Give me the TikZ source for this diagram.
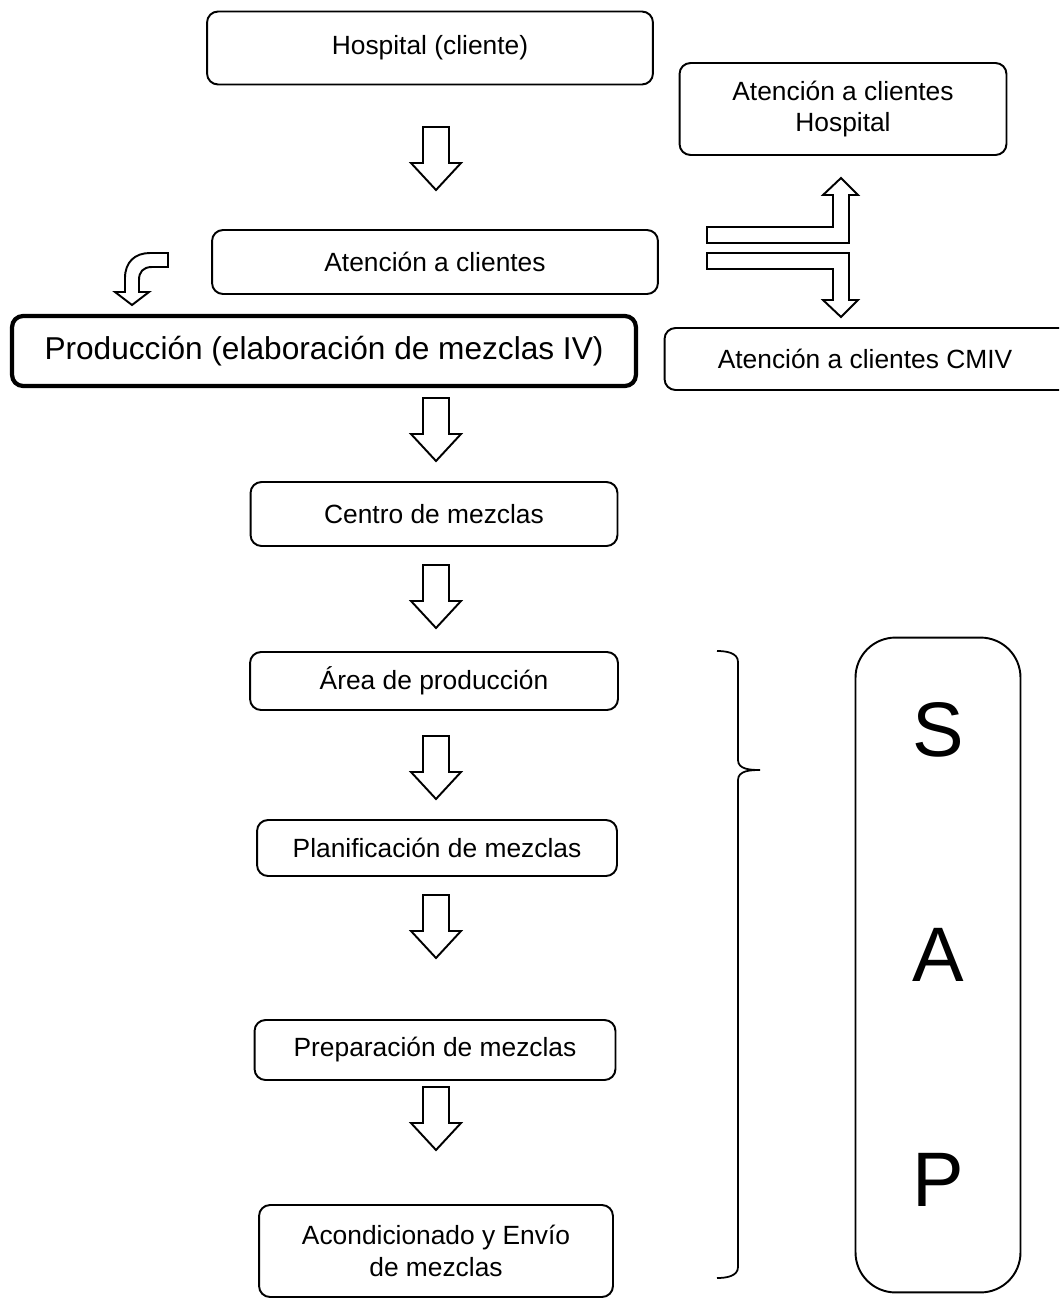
\documentclass[tikz,border=0pt]{standalone}
\usepackage{fontspec}
\setmainfont{Liberation Sans}
\tikzstyle{box}=[draw, rounded corners=0.22cm, line width=1.1pt, align=center, inner sep=0pt, font=\fontsize{15}{18}\selectfont]
\tikzstyle{bigbox}=[box, line width=2.4pt, font=\fontsize{18}{21}\selectfont]
\tikzstyle{blk}=[draw, line width=1.1pt, fill=white, line join=miter]
\tikzstyle{letter}=[font=\fontsize{44}{50}\selectfont]
\tikzset{pics/downarr/.style={code={
  \draw[blk] (-13,-31) -- (13,-31) -- (13,5) -- (25,5) -- (0,32) -- (-25,5) -- (-13,5) -- cycle;}}}

\begin{document}
\begin{tikzpicture}[x=0.02cm,y=-0.02cm]
      \clip (0,0) rectangle (1059,1298);

      \node [box, minimum width=8.92cm, minimum height=1.46cm] (hosp) at (430,48) {Hospital (cliente)};
      \node [box, minimum width=6.54cm, minimum height=1.84cm] (atch) at (843,109) {Atención a clientes\\Hospital};
      \node [box, minimum width=8.92cm, minimum height=1.28cm] (atc) at (435,262) {Atención a clientes};
      \node [bigbox, minimum width=12.48cm, minimum height=1.40cm] (prod) at (324,351) {Producción (elaboración de mezclas IV)};
      \node [box, minimum width=8.3cm, minimum height=1.24cm] (atcm) at (872,359) {Atención a clientes CMIV\hspace*{0.28cm}};

      \node [box, minimum width=7.34cm, minimum height=1.28cm] (cen) at (434,514) {Centro de mezclas};
      \node [box, minimum width=7.36cm, minimum height=1.16cm] (area) at (434,681) {Área de producción};
      \node [box, minimum width=7.2cm, minimum height=1.12cm] (plan) at (437,848) {Planificación de mezclas};
      \node [box, minimum width=7.22cm, minimum height=1.2cm] (prep) at (435,1050) {Preparación de mezclas};
      \node [box, minimum width=7.08cm, minimum height=1.84cm] (acon) at (436,1251) {Acondicionado y Envío\\de mezclas};

      \node [box, rounded corners=0.8cm, minimum width=3.3cm, minimum height=13.1cm] (sap) at (938,965) {};
      \node [letter] (s) at (938,730) {S};
      \node [letter] (a) at (938,955) {A};
      \node [letter] (p) at (938,1180) {P};

      % block arrows down the middle
      \pic at (436,158) {downarr};
      \pic at (436,429) {downarr};
      \pic at (436,596) {downarr};
      \pic at (436,767) {downarr};
      \pic at (436,926) {downarr};
      \pic at (436,1118) {downarr};

      % bent arrow to the left
      \draw[blk] (168,253) -- (150,253) .. controls (135,253) and (125,262) .. (125,278) -- (125,292)
        -- (115,292) -- (132,305) -- (149,292) -- (139,292) -- (139,280)
        .. controls (139,272) and (143,267) .. (152,267) -- (168,267) -- cycle;

      % split arrows to the right
      \draw[blk] (707,227) -- (833,227) -- (833,195) -- (823,195) -- (841,178) -- (858,195)
        -- (849,195) -- (849,243) -- (707,243) -- cycle;
      \draw[blk] (707,253) -- (849,253) -- (849,300) -- (858,300) -- (841,317) -- (823,300)
        -- (833,300) -- (833,269) -- (707,269) -- cycle;

      % brace
      \draw[line width=1pt] (717,651) to[out=0,in=90] (738,662) -- (738,760)
        to[out=-90,in=180] (760,770) to[out=180,in=90] (738,780) -- (738,1267)
        to[out=-90,in=0] (717,1278);
  \end{tikzpicture}
\end{document}
